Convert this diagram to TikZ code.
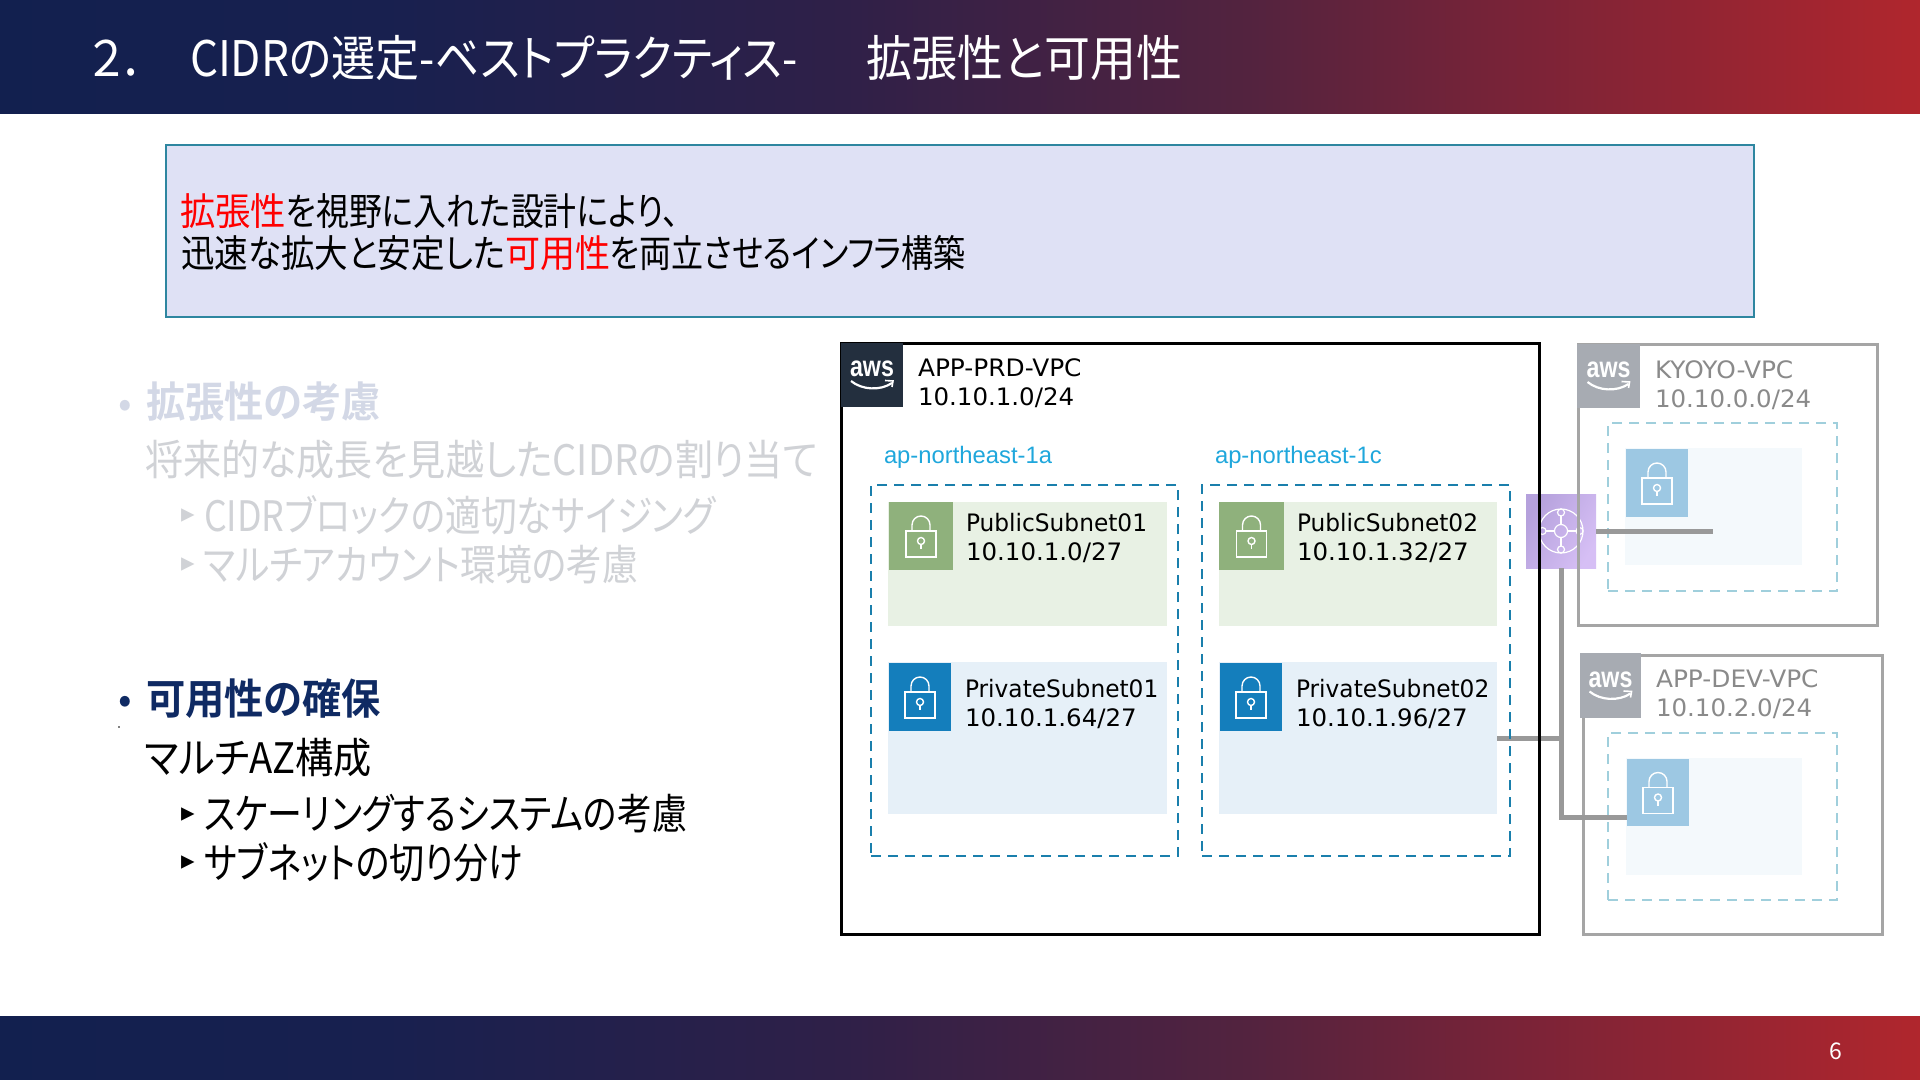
\documentclass[tikz,border=0pt]{standalone}
\usepackage{fontspec}
\usepackage{graphicx}
\setmainfont{DejaVu Sans}
\newfontfamily\jp[RawFeature=+palt]{Noto Sans CJK JP}
\newfontfamily\jpb[RawFeature=+palt]{Noto Sans CJK JP Bold}
\newfontfamily\ar{Liberation Sans}
\usetikzlibrary{calc}
\definecolor{navyg}{HTML}{12204F}
\definecolor{bandb}{HTML}{18204F}
\definecolor{bandc}{HTML}{2F2048}
\definecolor{bandd}{HTML}{53233F}
\definecolor{bande}{HTML}{772338}
\definecolor{redg}{HTML}{B0262D}
\pgfdeclarehorizontalshading{bandshade}{100bp}{color(0bp)=(navyg); color(25bp)=(navyg); color(35bp)=(bandb); color(47bp)=(bandc); color(57.5bp)=(bandd); color(64bp)=(bande); color(75bp)=(redg); color(100bp)=(redg)}
\definecolor{azblue}{HTML}{1A7FAC}
\definecolor{azpale}{HTML}{A0CFDC}
\definecolor{pubfill}{HTML}{E8F1E4}
\definecolor{pubtile}{HTML}{8FB17C}
\definecolor{prifill}{HTML}{E6F0F8}
\definecolor{pritile}{HTML}{147EBC}
\definecolor{palefill}{HTML}{F4F9FC}
\definecolor{paletile}{HTML}{9DC8E3}
\definecolor{vpcgrey}{HTML}{A5A5A5}
\definecolor{awsdark}{HTML}{232F3E}
\definecolor{awsgrey}{HTML}{A7ABB2}
\definecolor{txtgrey}{HTML}{8A8A8A}
\definecolor{lineg}{HTML}{999999}
\definecolor{fadeh}{HTML}{D3D8E6}
\definecolor{fadet}{HTML}{D0D2D6}
\definecolor{navyt}{HTML}{0F2A63}
\definecolor{msgfill}{HTML}{DFE1F5}
\definecolor{msgline}{HTML}{2E86A0}
\definecolor{azlabel}{HTML}{1FA7DC}
\definecolor{tgwlow}{HTML}{B5A1DC}
\definecolor{tgwhigh}{HTML}{D6BFF5}
% fit text horizontally to a width given in reference pixels
\newsavebox\fwbox
\newcommand\fw[2]{\sbox\fwbox{#2}\pgfmathsetmacro\fwr{(#1*0.5)/(\wd\fwbox/1pt)}\scalebox{\fwr}[1]{\usebox\fwbox}}
% horizontal squeeze of subnet and VPC lines
\newcommand\nm[1]{\scalebox{0.97}[1]{#1}}
\newcommand\ad[1]{\scalebox{1.02}[1]{#1}}
\newcommand\vn[1]{\scalebox{1.035}[1]{#1}}
% box by corners: name, style, x0,y0,x1,y1
\newcommand\bx[6]{\pgfmathsetmacro\bw{(#5-#3)*0.5}\pgfmathsetmacro\bh{(#6-#4)*0.5}\pgfmathsetmacro\bcx{(#3+#5)/2}\pgfmathsetmacro\bcy{(#4+#6)/2}\node (#1) [#2,rectangle,inner sep=0pt,outer sep=0pt,minimum width=\bw pt,minimum height=\bh pt] at (\bcx,\bcy) {};}
\tikzset{
 x=0.5pt,y=-0.5pt,
 band/.style={shade,shading=bandshade,draw=none},
 zone/.style={draw=azblue,line width=1.25pt,dash pattern=on 5pt off 3.5pt},
 zonepale/.style={draw=azpale,line width=1.1pt,dash pattern=on 5pt off 3.5pt},
 vpcmain/.style={draw=black,line width=1.5pt},
 vpcfade/.style={draw=vpcgrey,line width=1.5pt},
 link/.style={draw=lineg,line width=2.5pt},
 lab/.style={anchor=west,inner sep=0pt,outer sep=0pt},
 vpctext/.style={lab,align=left,font=\fontsize{12}{14.3}\selectfont},
 arrowmark/.style={inner sep=0pt,font=\fontsize{13.5}{13.5}\selectfont},
 lockicon/.pic={
  \draw[white,line width=0.7pt] (-15,-5) rectangle (15,21);
  \draw[white,line width=0.7pt] (-9,-5) -- (-9,-11) arc[start angle=180,end angle=360,radius=9] -- (9,-5);
  \draw[white,line width=0.7pt] (0,5) circle[radius=3.5];
  \draw[white,line width=0.7pt] (0,8.5) -- (0,13);
 },
 awslogo/.pic={
  \node[inner sep=0pt,text=white,font=\ar\bfseries\fontsize{14.5}{14.5}\selectfont] at (0,-6) {\scalebox{0.8}[1]{aws}};
  \draw[white,line width=1.1pt] (-21,6) .. controls (-10,15) and (8,16) .. (20,8);
  \draw[white,line width=0.8pt] (13,5.5) -- (21,6) -- (20,12);
 },
 tgwicon/.pic={
  \draw[white,line width=0.6pt] (0,0) circle[radius=22];
  \draw[white,line width=0.6pt] (0,0) circle[radius=6.5];
  \foreach \a in {0,90,180,270}{
   \draw[white,line width=0.6pt] (\a:6.5) -- (\a:15);
   \draw[white,line width=0.6pt] (\a:18.5) circle[radius=3.5];
  }
 },
}
\begin{document}
\begin{tikzpicture}
\useasboundingbox (0,0) rectangle (1920,1080);
\fill[white] (0,0) rectangle (1920,1080);
% bands
\bx{topband}{band}{0}{0}{1920}{114}
\bx{botband}{band}{0}{1016}{1920}{1080}
\node[lab,text=white,font=\jp\fontsize{24.5}{24.5}\selectfont] (ttla) at (90,58) {\fw{56}{２．}};
\node[lab,text=white,font=\jp\fontsize{24.5}{24.5}\selectfont] (ttlb) at (190,58) {\fw{608}{CIDRの選定-ベストプラクティス-}};
\node[lab,text=white,font=\jp\fontsize{24.5}{24.5}\selectfont] (ttlc) at (866,58) {\fw{316}{拡張性と可用性}};
\node[text=white,inner sep=0pt,font=\jp\fontsize{11.5}{11.5}\selectfont] (pageno) at (1836,1051) {6};
% message box
\bx{msg}{fill=msgfill,draw=msgline,line width=1pt}{166}{145}{1754}{317}
\node[lab,font=\jp\fontsize{19}{19}\selectfont] (msga) at (180,211) {\fw{106}{\textcolor{red}{拡張性}}\fw{393}{を視野に入れた設計により、}};
\node[lab,font=\jp\fontsize{19}{19}\selectfont] (msgb) at (181,253) {\fw{324}{迅速な拡大と安定した}\fw{105}{\textcolor{red}{可用性}}\fw{356}{を両立させるインフラ構築}};
% left text
\node[text=fadeh,inner sep=0pt,font=\jp\fontsize{20}{20}\selectfont] (bua) at (125,409) {•};
\node[lab,text=fadeh,font=\jpb\fontsize{21}{21}\selectfont] (hda) at (146,402) {\fw{235}{拡張性の考慮}};
\node[lab,text=fadet,font=\jp\fontsize{21}{21}\selectfont] (ta) at (145,460) {\fw{673}{将来的な成長を見越したCIDRの割り当て}};
\node[arrowmark,text=fadet] (ara) at (188,516) {▸};
\node[lab,text=fadet,font=\jp\fontsize{21}{21}\selectfont] (tb) at (204,515) {\fw{512}{CIDRブロックの適切なサイジング}};
\node[arrowmark,text=fadet] (arb) at (188,565) {▸};
\node[lab,text=fadet,font=\jp\fontsize{21}{21}\selectfont] (tc) at (204,565) {\fw{434}{マルチアカウント環境の考慮}};
\node[text=navyt,inner sep=0pt,font=\jp\fontsize{20}{20}\selectfont] (bub) at (125,705) {•};
\node[lab,text=navyt,font=\jpb\fontsize{21}{21}\selectfont] (hdb) at (146,699) {\fw{235}{可用性の確保}};
\fill[black] (119,727) circle[radius=0.8];
\node[lab,text=black,font=\jp\fontsize{21}{21}\selectfont] (td) at (145,758) {\fw{227}{マルチAZ構成}};
\node[arrowmark,text=black] (arc) at (188,815) {▸};
\node[lab,text=black,font=\jp\fontsize{21}{21}\selectfont] (te) at (204,814) {\fw{483}{スケーリングするシステムの考慮}};
\node[arrowmark,text=black] (ard) at (188,863) {▸};
\node[lab,text=black,font=\jp\fontsize{21}{21}\selectfont] (tf) at (204,862) {\fw{319}{サブネットの切り分け}};
% main VPC contents
\node[vpctext,text=black] (vpcmt) at (918,383) {\vn{APP-PRD-VPC}\\\ad{10.10.1.0/24}};
\node[lab,text=azlabel,font=\ar\fontsize{11.9}{11.9}\selectfont] (aza) at (884,457.5) {ap-northeast-1a};
\node[lab,text=azlabel,font=\ar\fontsize{11.9}{11.9}\selectfont] (azc) at (1215,457.5) {ap-northeast-1c};
\bx{puba}{fill=pubfill}{888}{502}{1167}{626}
\bx{pubc}{fill=pubfill}{1219}{502}{1497}{626}
\bx{pria}{fill=prifill}{888}{662}{1167}{814}
\bx{pric}{fill=prifill}{1219}{662}{1497}{814}
\bx{tpuba}{fill=pubtile}{889}{502}{953}{570}
\bx{tpubc}{fill=pubtile}{1219}{502}{1284}{570}
\bx{tpria}{fill=pritile}{889}{663}{951}{731}
\bx{tpric}{fill=pritile}{1220}{663}{1282}{731}
\pic at (tpuba.center) {lockicon};
\pic at (tpubc.center) {lockicon};
\pic at (tpria.center) {lockicon};
\pic at (tpric.center) {lockicon};
\node[vpctext] (tpa) at (966,538) {\nm{PublicSubnet01}\\\ad{10.10.1.0/27}};
\node[vpctext] (tpc) at (1297,538) {\nm{PublicSubnet02}\\\ad{10.10.1.32/27}};
\node[vpctext] (tra) at (965,704) {\nm{PrivateSubnet01}\\\ad{10.10.1.64/27}};
\node[vpctext] (trc) at (1296,704) {\nm{PrivateSubnet02}\\\ad{10.10.1.96/27}};
% transit gateway tile sits under the VPC borders
\bx{tgw}{left color=tgwlow,right color=tgwhigh,shading angle=60}{1526}{494}{1596}{568}
\pic at (tgw.center) {tgwicon};
% KYOYO VPC
\bx{vpck}{vpcfade}{1578}{345}{1877}{625}
\bx{awsk}{fill=awsgrey}{1577}{344}{1640}{408}
\pic at (awsk.center) {awslogo};
\node[vpctext,text=txtgrey] (vpckt) at (1655,385) {\vn{KYOYO-VPC}\\\ad{10.10.0.0/24}};
\bx{zonek}{zonepale}{1608}{423}{1837}{591}
\bx{subk}{fill=palefill}{1625}{448}{1802}{565}
\bx{tsubk}{fill=paletile}{1626}{449}{1688}{517}
\pic at (tsubk.center) {lockicon};
% DEV VPC
\bx{vpcd}{vpcfade}{1583}{655}{1882}{934}
\bx{awsd}{fill=awsgrey}{1580}{653}{1641}{718}
\pic at (awsd.center) {awslogo};
\node[vpctext,text=txtgrey] (vpcdt) at (1656,694) {\vn{APP-DEV-VPC}\\\ad{10.10.2.0/24}};
\bx{zoned}{zonepale}{1608}{733}{1837}{900}
\bx{subd}{fill=palefill}{1626}{758}{1802}{875}
\bx{tsubd}{fill=paletile}{1627}{759}{1689}{826}
\pic at (tsubd.center) {lockicon};
% connectors
\coordinate (kend) at (1713,531);
\coordinate (dend) at (1627,817);
\coordinate (junc) at (tgw.south |- pric.east);
\draw[link] (tgw.east) -- (kend);
\draw[link] (tgw.south) |- (dend);
\draw[link] (pric.east) -- (junc);
% drawn last: dashed zones and the main VPC border
\bx{zonea}{zone}{871}{485}{1178}{856}
\bx{zonec}{zone}{1202}{485}{1510}{856}
\bx{vpcm}{vpcmain}{841}{344}{1539}{934}
\bx{awsm}{fill=awsdark}{841}{343}{903}{407}
\pic at (awsm.center) {awslogo};
\end{tikzpicture}
\end{document}
